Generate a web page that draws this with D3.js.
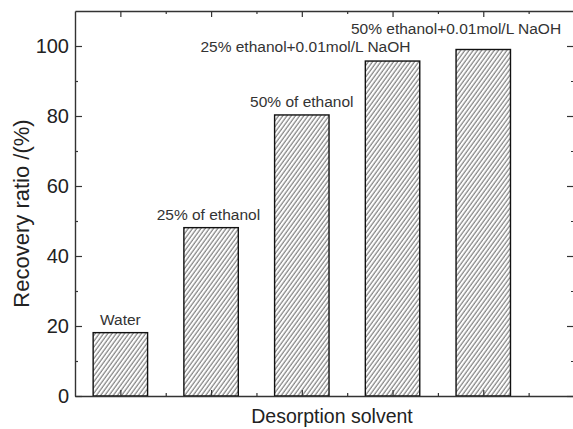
<!DOCTYPE html>
<html>
<head>
<meta charset="utf-8">
<script src="https://cdn.jsdelivr.net/npm/d3@7"></script>
<style>
  html, body { margin: 0; padding: 0; background: #fff; }
  svg { display: block; font-family: "Liberation Sans", Arial, sans-serif; }
</style>
</head>
<body>
<svg id="chart"></svg>
<script>
// data
const categories = ["Water", "25% of ethanol", "50% of ethanol",
    "25% ethanol+0.01mol/L NaOH", "50% ethanol+0.01mol/L NaOH"];
const recovery = [18.1, 48.1, 80.3, 95.7, 99.0];
const yTicks = [0, 20, 40, 60, 80, 100];
const yMinorTicks = [10, 30, 50, 70, 90];

// where each label sits relative to its bar (category units / px)
const labelDx = [0, -0.03, 0, -0.96, -0.3];
const labelDy = [8, 8, 8, 9, 16];

const width = 573, height = 429;
const margin = { top: 11, right: -1, bottom: 33, left: 75 };

const svg = d3.select("#chart")
    .attr("width", width)
    .attr("height", height);

const x = d3.scaleLinear()
    .domain([0.5, 6])
    .range([margin.left, width - margin.right]);

const y = d3.scaleLinear()
    .domain([0, 110])
    .range([height - margin.bottom, margin.top]);

const data = categories.map((c, i) => ({ name: c, value: recovery[i], pos: i + 1 }));

// hatch
const defs = svg.append("defs");
defs.append("pattern")
    .attr("id", "hatch")
    .attr("patternUnits", "userSpaceOnUse")
    .attr("width", 3.4)
    .attr("height", 10)
    .attr("patternTransform", "rotate(36)")
  .append("line")
    .attr("x1", 1).attr("y1", 0)
    .attr("x2", 1).attr("y2", 10)
    .attr("stroke", "#3a3a3a")
    .attr("stroke-width", 0.85);

const barW = 0.6;

svg.append("g")
    .selectAll("rect")
    .data(data)
    .join("rect")
    .attr("x", d => x(d.pos - barW / 2))
    .attr("y", d => y(d.value))
    .attr("width", d => x(d.pos + barW / 2) - x(d.pos - barW / 2))
    .attr("height", d => y(0) - y(d.value))
    .attr("fill", "url(#hatch)")
    .attr("stroke", "#111")
    .attr("stroke-width", 1.4);

svg.append("g")
    .selectAll("text")
    .data(data)
    .join("text")
    .attr("x", (d, i) => x(d.pos + labelDx[i]))
    .attr("y", (d, i) => y(d.value) - labelDy[i])
    .attr("text-anchor", "middle")
    .attr("font-size", 15.5)
    .attr("fill", "#333")
    .text(d => d.name);

// axes, ticks all pointing inward
const xMajor = d3.range(1, 6);
const xMinor = d3.range(1.5, 6, 1);

function styleAxis(g) {
    g.selectAll("path.domain").attr("stroke", "#333").attr("stroke-width", 1.4);
    g.selectAll(".tick line").attr("stroke", "#333").attr("stroke-width", 1.2);
}

const bottomAx = svg.append("g").attr("transform", `translate(0,${y(0)})`);
bottomAx.call(d3.axisBottom(x).tickValues(xMajor).tickSize(-6).tickSizeOuter(0).tickFormat(""));
bottomAx.append("g").call(d3.axisBottom(x).tickValues(xMinor).tickSize(-3).tickSizeOuter(0).tickFormat(""))
    .select("path.domain").remove();
styleAxis(bottomAx);

const topAx = svg.append("g").attr("transform", `translate(0,${y(110)})`);
topAx.call(d3.axisTop(x).tickValues(xMajor).tickSize(-6).tickSizeOuter(0).tickFormat(""));
topAx.append("g").call(d3.axisTop(x).tickValues(xMinor).tickSize(-3).tickSizeOuter(0).tickFormat(""))
    .select("path.domain").remove();
styleAxis(topAx);

const leftAx = svg.append("g").attr("transform", `translate(${x(0.5)},0)`);
leftAx.call(d3.axisLeft(y).tickValues(yTicks).tickSize(-7).tickSizeOuter(0).tickPadding(6));
leftAx.append("g").call(d3.axisLeft(y).tickValues(yMinorTicks).tickSize(-3).tickSizeOuter(0).tickFormat(""))
    .select("path.domain").remove();
leftAx.selectAll(".tick text")
    .attr("font-size", 20)
    .attr("font-family", "Liberation Sans, Arial, sans-serif")
    .attr("fill", "#222");
styleAxis(leftAx);

const rightAx = svg.append("g").attr("transform", `translate(${x(6)},0)`);
rightAx.call(d3.axisRight(y).tickValues(yTicks).tickSize(-7).tickSizeOuter(0).tickFormat(""));
rightAx.append("g").call(d3.axisRight(y).tickValues(yMinorTicks).tickSize(-3).tickSizeOuter(0).tickFormat(""))
    .select("path.domain").remove();
styleAxis(rightAx);

// titles
svg.append("text")
    .attr("transform", `translate(29,${(y(0) + y(110)) / 2 + 10}) rotate(-90)`)
    .attr("text-anchor", "middle")
    .attr("font-size", 22)
    .attr("fill", "#222")
    .text("Recovery ratio /(%)");

svg.append("text")
    .attr("x", 332)
    .attr("y", 423)
    .attr("text-anchor", "middle")
    .attr("font-size", 19.5)
    .attr("fill", "#222")
    .text("Desorption solvent");
</script>
</body>
</html>
